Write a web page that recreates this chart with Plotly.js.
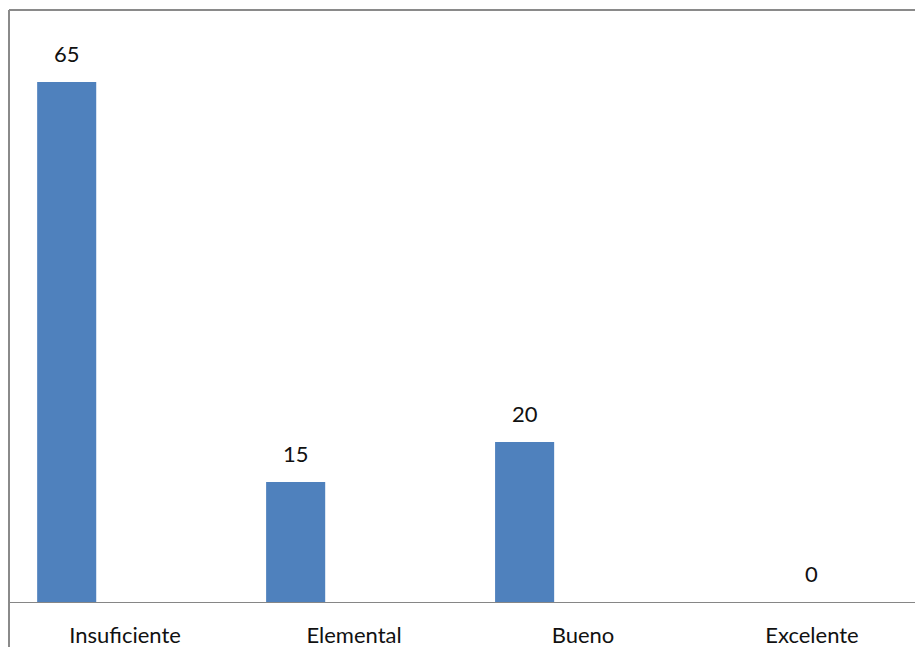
<!DOCTYPE html>
<html>
<head>
<meta charset="utf-8">
<script src="https://cdn.plot.ly/plotly-3.0.1.min.js"></script>
<style>
  html, body { margin: 0; padding: 0; background: #ffffff; }
  #chart { width: 915px; height: 647px; }
</style>
</head>
<body>
<div id="chart"></div>
<script>
// ---- data ----
const categories = ["Insuficiente", "Elemental", "Bueno", "Excelente"];
const values = [65, 15, 20, 0];

// ---- style ----
const BAR_COLOR = "#4f81bd";
const FONT = "Lato, 'Open Sans', sans-serif";
const BAR_OFFSET = -0.384;
const BAR_WIDTH = 0.258;
const FRAME = "#8a8a8a";

const trace = {
  type: "bar",
  x: categories,
  y: values,
  offset: BAR_OFFSET,
  width: BAR_WIDTH,
  marker: { color: BAR_COLOR, line: { width: 0 } },
  hoverinfo: "x+y"
};

// value labels built from the data
const annotations = values.map((v, i) => ({
  x: v === 0 ? i : i + BAR_OFFSET + BAR_WIDTH / 2,
  y: v,
  xref: "x",
  yref: "y",
  text: String(v),
  showarrow: false,
  yanchor: "bottom",
  xanchor: "center",
  yshift: 13,
  font: { family: FONT, size: 22, color: "#111111" }
}));

const layout = {
  width: 915,
  height: 647,
  margin: { l: 9, r: 0, t: 10, b: 45, pad: 0 },
  paper_bgcolor: "#ffffff",
  plot_bgcolor: "#ffffff",
  showlegend: false,
  xaxis: {
    type: "category",
    range: [-0.507, 3.45],
    showgrid: false,
    zeroline: false,
    showline: true,
    linecolor: "#868686",
    linewidth: 1,
    ticks: "",
    ticklabelstandoff: 14,
    tickfont: { family: FONT, size: 22, color: "#111111" },
    fixedrange: true
  },
  yaxis: {
    range: [0, 74],
    showgrid: false,
    zeroline: false,
    showline: false,
    showticklabels: false,
    ticks: "",
    fixedrange: true
  },
  annotations: annotations,
  shapes: [
    { type: "line", xref: "paper", yref: "paper", x0: 0, x1: 0, y0: 1, y1: -0.1,
      line: { color: FRAME, width: 2 } },
    { type: "line", xref: "paper", yref: "paper", x0: 0, x1: 1.02, y0: 1, y1: 1,
      line: { color: FRAME, width: 2 } }
  ]
};

Plotly.newPlot("chart", [trace], layout, { displayModeBar: false, staticPlot: true });
</script>
</body>
</html>
